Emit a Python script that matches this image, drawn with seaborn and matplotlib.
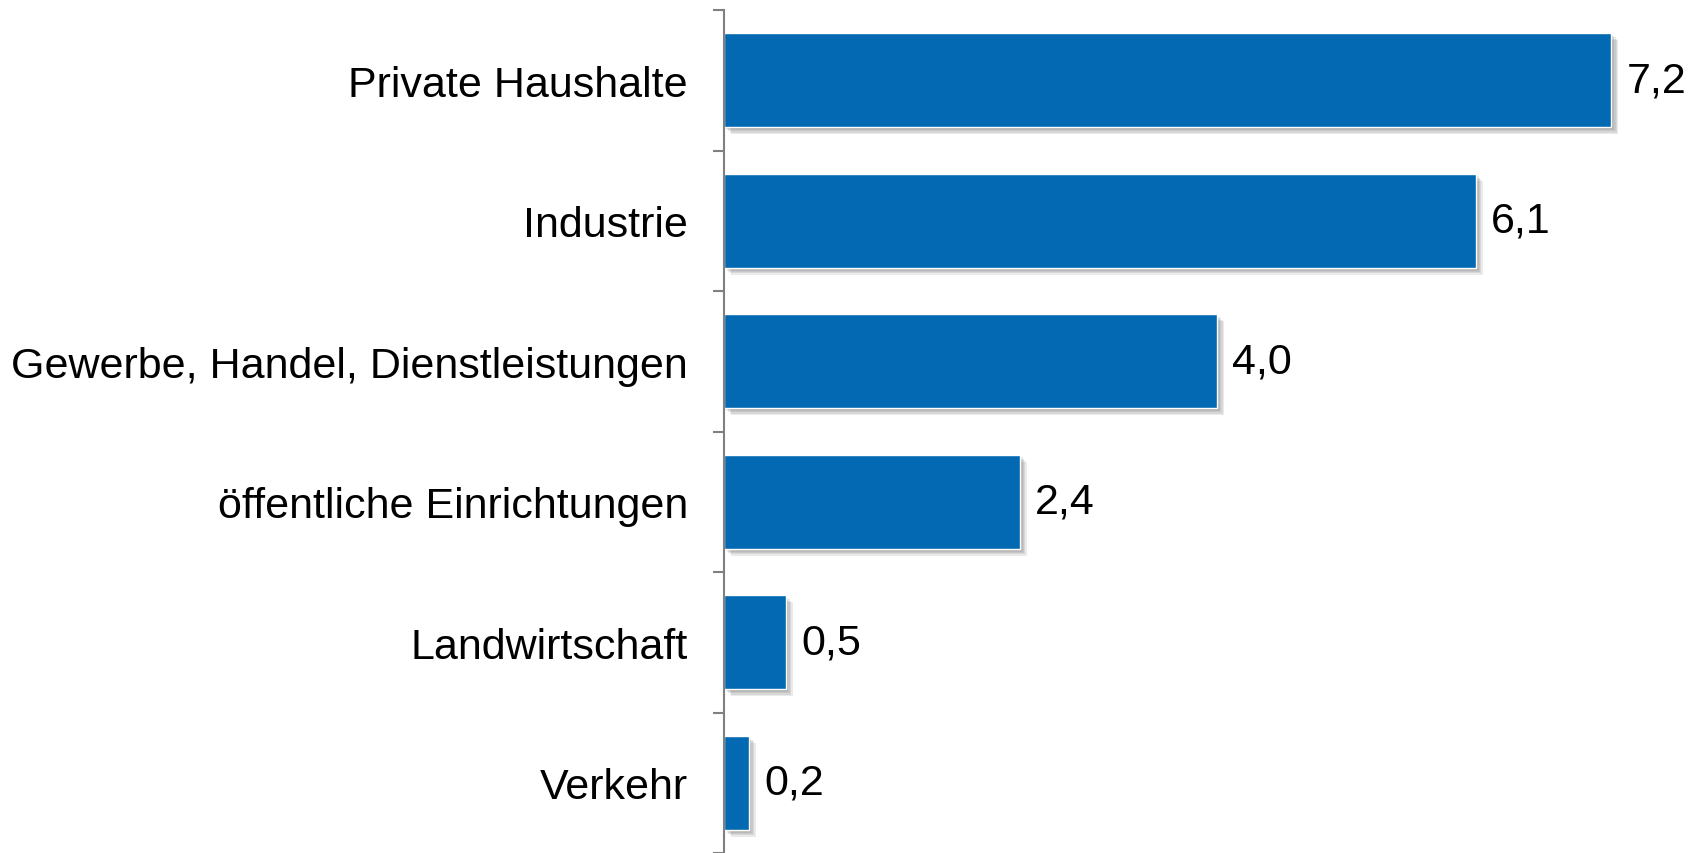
import matplotlib
matplotlib.use("Agg")
import matplotlib.pyplot as plt
import matplotlib.patheffects as pe
import numpy as np
import pandas as pd
import seaborn as sns

categories = ["Private Haushalte", "Industrie", "Gewerbe, Handel, Dienstleistungen",
              "öffentliche Einrichtungen", "Landwirtschaft", "Verkehr"]
values = [7.2, 6.1, 4.0, 2.4, 0.5, 0.2]
value_labels = ["7,2", "6,1", "4,0", "2,4", "0,5", "0,2"]

df = pd.DataFrame({"Sektor": categories, "Wert": values})

sns.set_style("white")
plt.rcParams['font.family'] = ['Liberation Sans', 'DejaVu Sans']

fig = plt.figure(figsize=(16.99, 8.54), dpi=100)
ax = fig.add_axes([724 / 1699, 0.0, 1 - 724 / 1699, 1 - 11 / 854])

sns.barplot(data=df, x="Wert", y="Sektor", orient="h", color="#0369B3",
            saturation=1, width=0.67, ax=ax)

# soft drop shadow: a few stacked faint shadows
shadow = [pe.SimplePatchShadow(offset=(o, -o), shadow_rgbFace="#555555", alpha=0.12)
          for o in (1, 2, 3, 4, 5)]
for bar in ax.patches:
    bar.set_path_effects(shadow + [pe.Normal()])

ax.bar_label(ax.containers[0], labels=value_labels, padding=11, fontsize=31, color="black")

ax.set_xlim(0, 7.91)
ax.set_ylim(len(categories) - 0.5, -0.5)
ax.set_xlabel("")
ax.set_ylabel("")
ax.set_xticks([])

ax.set_yticks(range(len(categories)))
ax.set_yticklabels(categories, fontsize=31, color="black")
ax.tick_params(axis="y", which="major", left=False, length=0, pad=26)
ax.set_yticks(np.arange(-0.5, len(categories), 1.0), minor=True)
ax.tick_params(axis="y", which="minor", left=True, length=8, width=1.5, color="#808080")

for side in ["top", "right", "bottom"]:
    ax.spines[side].set_visible(False)
ax.spines["left"].set_color("#808080")
ax.spines["left"].set_linewidth(1.5)

fig.savefig("out.png", dpi=100)
